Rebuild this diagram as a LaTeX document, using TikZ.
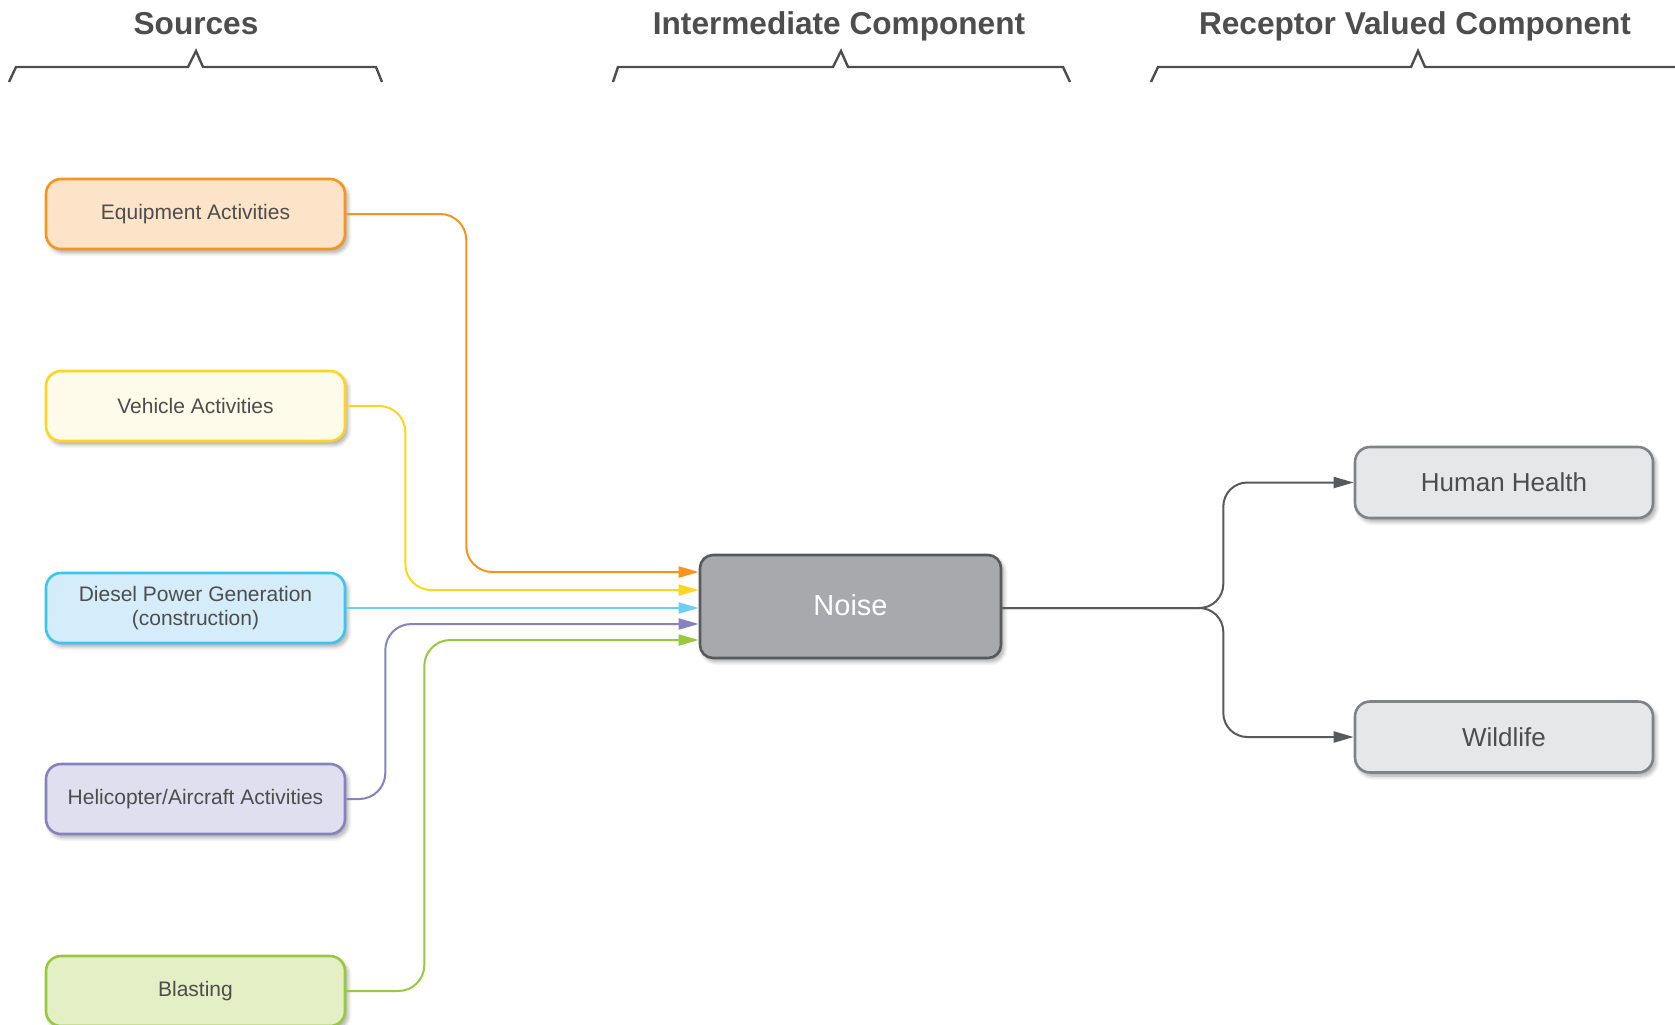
\documentclass[tikz,border=0pt]{standalone}
\usepackage{fontspec}
\setmainfont{Liberation Sans}
\usepackage{xcolor}
\definecolor{noiseInk}{HTML}{4D4D4D}
\definecolor{srcOrange}{HTML}{F7941D}
\definecolor{srcOrangeBg}{HTML}{FDE4C9}
\definecolor{srcYellow}{HTML}{FFD51F}
\definecolor{srcYellowBg}{HTML}{FFFBEA}
\definecolor{srcCyan}{HTML}{3CC5F0}
\definecolor{srcCyanLine}{HTML}{6DCFF6}
\definecolor{srcCyanBg}{HTML}{D5EDFA}
\definecolor{srcPurple}{HTML}{8781BD}
\definecolor{srcPurpleBg}{HTML}{E0DFF0}
\definecolor{srcGreen}{HTML}{97C93D}
\definecolor{srcGreenBg}{HTML}{E5EFC5}
\definecolor{noiseGrey}{HTML}{A7A9AC}
\definecolor{noiseGreyDark}{HTML}{58595B}
\definecolor{recGrey}{HTML}{808285}
\definecolor{recGreyBg}{HTML}{E6E7E8}
\usetikzlibrary{arrows.meta, shadows.blur}
\tikzset{
  %% ── Boxes ────────────────────────────────────────────────────────────
  bloc/.style          = {rounded corners=7.5pt, line width=1.3pt, align=center,
                          text=noiseInk, minimum width=149.5pt, minimum height=35pt,
                          inner sep=2pt, font=\fontsize{10.5}{12.3}\selectfont,
                          blur shadow={shadow xshift=1.4pt, shadow yshift=-1.8pt,
                                       shadow blur radius=2pt, shadow blur steps=8,
                                       shadow opacity=35}},
  blocSource/.style 2 args = {bloc, draw=#1, fill=#2},
  blocBruit/.style     = {bloc, draw=noiseGreyDark, fill=noiseGrey, text=white,
                          rounded corners=6.5pt, minimum width=150.5pt,
                          minimum height=51.5pt, font=\fontsize{14.5}{17}\selectfont},
  blocRecepteur/.style = {bloc, draw=recGrey, fill=recGreyBg, minimum width=149pt,
                          minimum height=35.5pt, font=\fontsize{13}{15}\selectfont},
  %%
  %% ── Arrows ───────────────────────────────────────────────────────────
  fleche/.style        = {-{Triangle[length=10pt, width=5.5pt]}, line width=1pt,
                          rounded corners=13pt},
  %%
  %% ── Text ─────────────────────────────────────────────────────────────
  titreBande/.style    = {font=\fontsize{15.8}{19}\selectfont\bfseries,
                          text=noiseInk, anchor=base, inner sep=0pt},
  accolade/.style      = {draw=noiseInk, line width=1.2pt},
}

\begin{document}
\begin{tikzpicture}[x=0.5pt, y=-0.5pt]

\useasboundingbox (0,0) rectangle (1675,1024);

%% Les trois bandes et leurs accolades.
\node[titreBande] (titSrc) at (196,34) {Sources};
\node[titreBande] (titInt) at (839,34) {Intermediate Component};
\node[titreBande] (titRec) at (1415,34) {Receptor Valued Component};

\draw[accolade] (9,82) -- (16,67) -- (188,67) -- (196,51) -- (203,67)
                -- (376,67) -- (382,82);
\draw[accolade] (613,82) -- (618,67) -- (833,67) -- (841,51) -- (848,67)
                -- (1063,67) -- (1070,82);
\draw[accolade] (1151,82) -- (1158,67) -- (1411,67) -- (1418,51) -- (1425,67)
                -- (1680,67);

%% Les sources.
\node[blocSource={srcOrange}{srcOrangeBg}] (equip) at (195.5,214)
     {Equipment Activities};
\node[blocSource={srcYellow}{srcYellowBg}] (vehic) at (195.5,406)
     {Vehicle Activities};
\node[blocSource={srcCyan}{srcCyanBg}] (diesel) at (195.5,608)
     {Diesel Power Generation\\(construction)};
\node[blocSource={srcPurple}{srcPurpleBg}] (helico) at (195.5,799)
     {Helicopter/Aircraft Activities};
\node[blocSource={srcGreen}{srcGreenBg}] (blast) at (195.5,991)
     {Blasting};

%% La composante intermediaire et les recepteurs.
\node[blocBruit] (noise) at (850.5,606.5) {\raisebox{1.5pt}{Noise}};
\node[blocRecepteur] (human) at (1504,482.5) {Human Health};
\node[blocRecepteur] (wild) at (1504,737) {Wildlife};

\draw[fleche, srcOrange] (equip.east) -- ++(120,0) |- ([yshift=17.25pt]noise.west);
\draw[fleche, srcYellow] (vehic.east) -- ++(59,0) |- ([yshift=8.25pt]noise.west);
\draw[fleche, srcCyanLine] (diesel.east) -- (noise.west |- diesel.east);
\draw[fleche, srcPurple] (helico.east) -- ++(39,0) |- ([yshift=-8.75pt]noise.west);
\draw[fleche, srcGreen] (blast.east) -- ++(78,0) |- ([yshift=-16.75pt]noise.west);

\draw[fleche, noiseGreyDark, rounded corners=12pt] (noise.east |- diesel.east)
     -- ++(221,0) |- (human.west);
\draw[fleche, noiseGreyDark, rounded corners=12pt] (noise.east |- diesel.east)
     -- ++(221,0) |- (wild.west);

\end{tikzpicture}
\end{document}
